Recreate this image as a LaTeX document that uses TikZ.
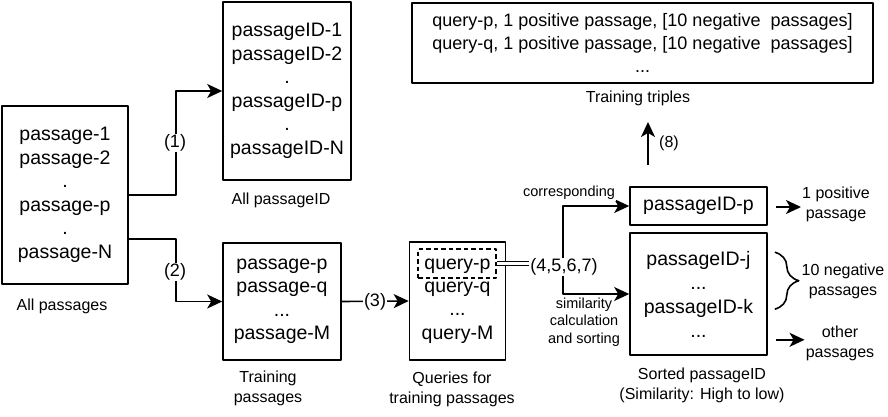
\documentclass[tikz,border=0pt]{standalone}
\usepackage{fontspec}
\setmainfont{Liberation Sans}
\usetikzlibrary{arrows.meta,calc,decorations.pathreplacing}

\begin{document}
\begin{tikzpicture}[x=1pt,y=-1pt,>={Stealth[length=15pt,width=14pt,inset=4pt]}, line join=round,
	box/.style={draw,line width=1.6pt,align=center,inner sep=0pt,font=\fontsize{19.5}{23.5}\selectfont},
	captext/.style={align=center,inner sep=1pt,font=\fontsize{16}{20}\selectfont},
	small/.style={align=center,inner sep=1pt,font=\fontsize{14.5}{17.5}\selectfont},
	steplab/.style={fill=white,inner sep=1pt,font=\fontsize{18}{20}\selectfont},
	conn/.style={line width=1.6pt}]
	\useasboundingbox (0,0) rectangle (888,416);
	% boxes
	\node[box,minimum width=126pt,minimum height=178pt] (allp) at (65,195)
	{passage-1\\passage-2\\.\\passage-p\\.\\passage-N};
	\node[box,minimum width=128pt,minimum height=178pt] (allid) at (287,91)
	{passageID-1\\passageID-2\\.\\passageID-p\\.\\passageID-N};
	\node[box,minimum width=118pt,minimum height=117pt] (trainp) at (282,301.5)
	{passage-p\\passage-q\\...\\passage-M};
	\node[box,minimum width=96pt,minimum height=118pt,font=\fontsize{19.5}{23.3}\selectfont] (qry) at (457.5,301)
	{query-p\\query-q\\...\\query-M};
	\node[draw,dashed,dash pattern=on 4.5pt off 3pt,line width=1.6pt,minimum width=78pt,minimum height=29pt] (qp) at (457,263.5) {};
	\node[box,minimum width=137pt,minimum height=38pt] (posid) at (698.5,206) {passageID-p};
	\node[box,minimum width=137pt,minimum height=122pt,font=\fontsize{19.5}{24}\selectfont] (sorted) at (698.5,294)
	{passageID-j\\...\\passageID-k\\...};
	\node[box,minimum width=461pt,minimum height=80pt,font=\fontsize{18}{23}\selectfont] (trip) at (642.5,43)
	{query-p, 1 positive passage, [10 negative\ \ passages]\\query-q, 1 positive passage, [10 negative\ \ passages]\\...};
	% captions
	\node[captext] (allpcap) at (62,306) {All passages};
	\node[captext] (allidcap) at (281,200) {All passageID};
	\node[captext] (trainpcap) at (268,388) {Training\\passages};
	\node[captext] (qrycap) at (452,389) {Queries for\\training passages};
	\node[captext] (sortcap) at (702,385) {Sorted passageID\\(Similarity: High to low)};
	\node[captext] (tripcap) at (638,98) {Training triples};
	% steps (1)-(3)
	\draw[conn,->] (allp.east) -- ++(47,0) |- (allid.west);
	\node[steplab] (l1) at (175,143) {(1)};
	\draw[conn,->] ([yshift=-44pt]allp.east) -- ++(47,0) |- (trainp.west);
	\node[steplab] (l2) at (175,272) {(2)};
	\draw[conn,->] (trainp.east) -- (qry.west);
	\node[steplab] (l3) at (375,301.5) {(3)};
	% steps (4)-(7)
	\coordinate (fork) at (563,267);
	\draw[conn,->] (fork) |- (posid.west);
	\draw[conn,->] (fork) |- (sorted.west);
	\node[steplab] (l47) at (564,267) {(4,5,6,7)};
	\draw[line width=1.3pt,double,double distance=3pt] (qp.east) -- (qp.east -| l47.west);
	\node[small,fill=white] (corr) at (569,193) {corresponding};
	\node[small] (simc) at (584,322) {similarity\\calculation\\and sorting};
	% right side
	\node[captext] (pos1) at (836,204) {1 positive\\passage};
	\coordinate (posA) at ($(posid.east)+(8,1)$);
	\draw[conn,->] (posA) -- (posA -| pos1.west);
	\node[captext] (neg10) at (843,281) {10 negative\\passages};
	\draw[line width=1.6pt,decorate,decoration={brace,amplitude=24pt}]
	($(sorted.north east)+(7,20)$) -- ($(sorted.north east)+(7,77)$);
	\node[captext] (oth) at (840,343) {other\\passages};
	\coordinate (othA) at ($(sorted.south east)+(8,-16)$);
	\draw[conn,->] (othA) -- (othA -| oth.west);
	% step (8)
	\coordinate (e8) at (648,165);
	\coordinate (s8) at (648,122);
	\draw[conn,->] (e8) -- (s8);
	\node[inner sep=1pt,font=\fontsize{16}{18}\selectfont] (l8) at (669,143) {(8)};
\end{tikzpicture}
\end{document}
